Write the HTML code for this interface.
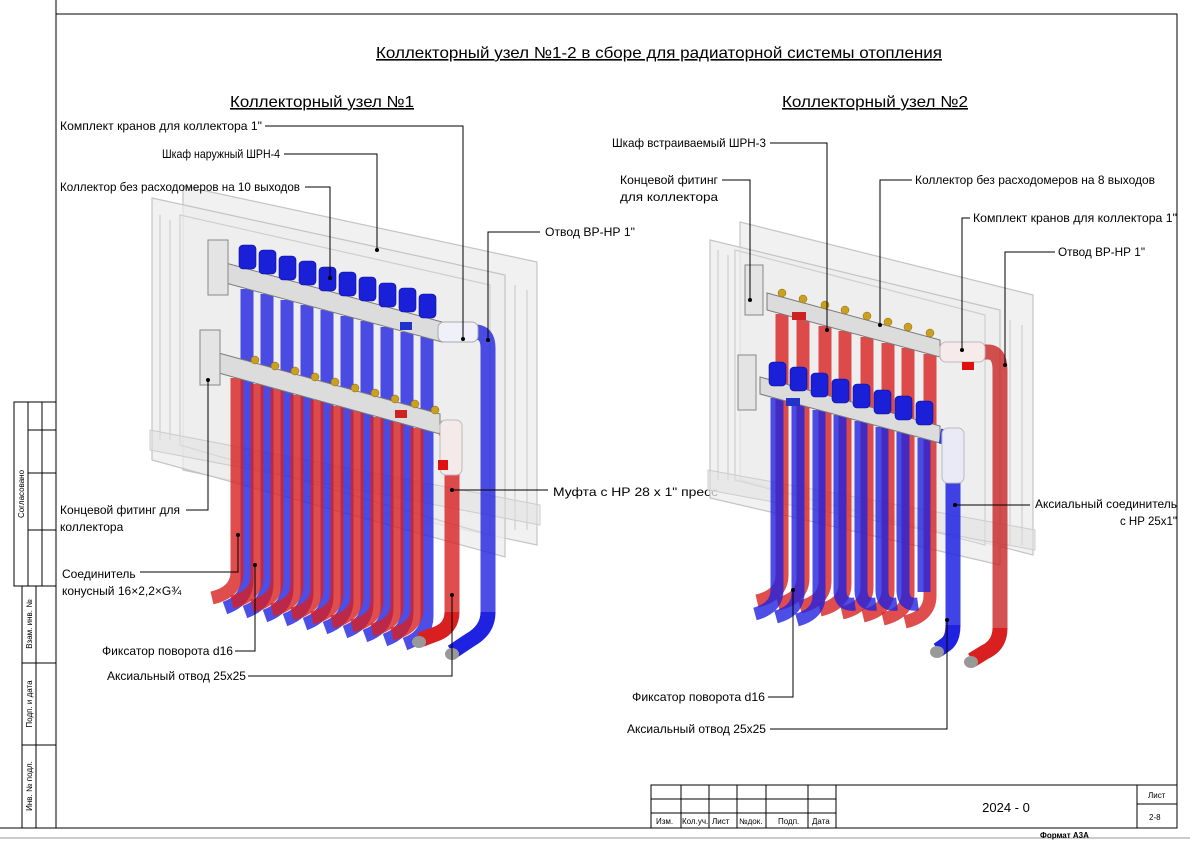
<!DOCTYPE html>
<html><head><meta charset="utf-8"><style>
html,body{margin:0;padding:0;background:#fff}
svg{display:block}
text{font-family:"Liberation Sans Narrow","Liberation Sans","DejaVu Sans Condensed",sans-serif;fill:#000}
.l{font-size:12px}
.t{font-size:16px;text-decoration:underline}
.s{font-size:8px}
.ln{stroke:#000;stroke-width:1;fill:none}
.bp{fill:none;stroke:#1f22e0;stroke-width:13;stroke-opacity:.8}
.rp{fill:none;stroke:#d82020;stroke-width:13;stroke-opacity:.8}
.cap{fill:#1a1fd8;stroke:#0d0f90;stroke-width:.6}
.man{fill:#dcdcdc;stroke:#7a7a7a;stroke-width:1}
.cab{fill:#ececec;fill-opacity:.75;stroke:#c4c4c4;stroke-width:1.2}
.fr{fill:none;stroke:#cfcfcf;stroke-width:1.2}
.br{fill:#c9a020;stroke:#8a6a10;stroke-width:.5}
</style></head><body>
<svg width="1190" height="842" viewBox="0 0 1190 842" xmlns="http://www.w3.org/2000/svg">
<line x1="0" y1="838" x2="1190" y2="838" stroke="#999" stroke-width="1"/>
<path class="ln" d="M56 0 V828 M56 14 H1177 V828 H0" stroke-width="1.3"/>
<g class="ln" stroke-width="1.2">
<rect x="14" y="402" width="42" height="184"/>
<path d="M28 402 V586 M42 402 V586 M28 430 H56 M28 473 H56 M28 530 H56"/>
<rect x="22" y="586" width="34" height="242"/>
<path d="M36 586 V828 M22 663 H56 M22 745 H56"/>
</g>
<text class="s" transform="translate(24,494) rotate(-90)" text-anchor="middle">Согласовано</text>
<text class="s" transform="translate(32,624) rotate(-90)" text-anchor="middle">Взам. инв. №</text>
<text class="s" transform="translate(32,704) rotate(-90)" text-anchor="middle">Подп. и дата</text>
<text class="s" transform="translate(32,786) rotate(-90)" text-anchor="middle">Инв. № подл.</text>
<g class="ln" stroke-width="1.2">
<rect x="651" y="785" width="526" height="43"/>
<path d="M681 785 V828 M709 785 V828 M737 785 V828 M766 785 V828 M808 785 V828 M836 785 V828 M1137 785 V828 M651 799 H836 M651 813 H836 M1137 804 H1177"/>
</g>
<g class="s">
<text x="656" y="824">Изм.</text><text x="682" y="824">Кол.уч.</text><text x="712" y="824">Лист</text><text x="739" y="824">№док.</text><text x="778" y="824">Подп.</text><text x="812" y="824">Дата</text>
<text x="1148" y="798">Лист</text><text x="1149" y="820">2-8</text>
<text x="1040" y="838" font-weight="bold">Формат А3А</text>
</g>
<text x="1006" y="812" font-size="13" text-anchor="middle">2024 - 0</text>
<text class="t" x="376" y="58" textLength="566" lengthAdjust="spacingAndGlyphs">Коллекторный узел №1-2 в сборе для радиаторной системы отопления</text>
<text class="t" x="230" y="107" textLength="184" lengthAdjust="spacingAndGlyphs">Коллекторный узел №1</text>
<text class="t" x="782" y="107" textLength="186" lengthAdjust="spacingAndGlyphs">Коллекторный узел №2</text>

<!-- Diagram 1 -->
<polygon class="cab" points="183,186 537,262 537,545 183,470"/>
<polygon class="cab" points="152,198 505,275 505,557 152,460"/>
<polygon class="fr" points="180,215 490,285 490,535 180,445"/>
<path class="fr" d="M160 215 V440 M170 220 V440 M515 285 V530 M527 290 V530"/>
<polygon points="150,430 540,505 540,525 150,450" fill="#e0e0e0" fill-opacity=".5" stroke="#ccc"/>
<g>
<path class="bp" d="M247 289 V580 Q247 600 225 608"/><path class="bp" d="M267 294 V584 Q267 604 245 612"/>
<path class="bp" d="M287 300 V588 Q287 608 265 616"/><path class="bp" d="M307 305 V592 Q307 612 285 620"/>
<path class="bp" d="M327 310 V596 Q327 616 305 624"/><path class="bp" d="M347 316 V600 Q347 620 325 628"/>
<path class="bp" d="M367 321 V604 Q367 624 345 632"/><path class="bp" d="M387 327 V608 Q387 628 365 636"/>
<path class="bp" d="M407 332 V612 Q407 632 385 640"/><path class="bp" d="M427 337 V616 Q427 636 405 644"/>
</g>
<polygon class="man" points="222,262 442,322 442,342 222,282"/>
<g>
<rect class="cap" x="239" y="245" width="17" height="24" rx="4"/><rect class="cap" x="259" y="250" width="17" height="24" rx="4"/>
<rect class="cap" x="279" y="256" width="17" height="24" rx="4"/><rect class="cap" x="299" y="261" width="17" height="24" rx="4"/>
<rect class="cap" x="319" y="267" width="17" height="24" rx="4"/><rect class="cap" x="339" y="272" width="17" height="24" rx="4"/>
<rect class="cap" x="359" y="277" width="17" height="24" rx="4"/><rect class="cap" x="379" y="283" width="17" height="24" rx="4"/>
<rect class="cap" x="399" y="288" width="17" height="24" rx="4"/><rect class="cap" x="419" y="294" width="17" height="24" rx="4"/>
</g>
<g>
<path class="rp" d="M237 378 V572 Q237 592 212 598"/><path class="rp" d="M257 384 V576 Q257 596 232 602"/>
<path class="rp" d="M277 389 V580 Q277 600 252 606"/><path class="rp" d="M297 395 V584 Q297 604 272 610"/>
<path class="rp" d="M317 400 V588 Q317 608 292 614"/><path class="rp" d="M337 406 V592 Q337 612 312 618"/>
<path class="rp" d="M357 411 V596 Q357 616 332 622"/><path class="rp" d="M377 417 V600 Q377 620 352 626"/>
<path class="rp" d="M397 422 V604 Q397 624 372 630"/><path class="rp" d="M417 428 V608 Q417 628 392 634"/>
</g>
<polygon class="man" points="215,352 440,414 440,434 215,372"/>
<g>
<circle class="br" cx="255" cy="360" r="4"/><circle class="br" cx="275" cy="366" r="4"/><circle class="br" cx="295" cy="371" r="4"/><circle class="br" cx="315" cy="377" r="4"/><circle class="br" cx="335" cy="382" r="4"/><circle class="br" cx="355" cy="388" r="4"/><circle class="br" cx="375" cy="393" r="4"/><circle class="br" cx="395" cy="399" r="4"/><circle class="br" cx="415" cy="404" r="4"/><circle class="br" cx="435" cy="410" r="4"/>
</g>
<rect x="208" y="240" width="20" height="55" fill="#e4e4e4" stroke="#888"/>
<rect x="200" y="330" width="20" height="55" fill="#e4e4e4" stroke="#888"/>
<rect x="400" y="322" width="12" height="8" fill="#2233cc"/><rect x="395" y="410" width="12" height="8" fill="#cc2222"/>
<path d="M440 332 H475 Q488 332 488 348 V612" fill="none" stroke="#1f22e0" stroke-width="15" stroke-opacity=".8"/>
<rect x="438" y="322" width="40" height="20" rx="6" fill="#f0f0f8" stroke="#aaa"/>
<path d="M488 612 Q488 630 470 640 L452 652" fill="none" stroke="#1f22e0" stroke-width="15"/>
<ellipse cx="452" cy="654" rx="7" ry="6" fill="#999"/>
<path d="M440 428 Q452 430 452 445 V612" fill="none" stroke="#d82020" stroke-width="15" stroke-opacity=".8"/>
<rect x="440" y="420" width="22" height="55" rx="6" fill="#f4eaea" stroke="#bbb"/>
<path d="M452 612 Q452 628 436 634 L420 640" fill="none" stroke="#d82020" stroke-width="15"/>
<ellipse cx="419" cy="642" rx="7" ry="6" fill="#999"/>
<rect x="438" y="460" width="10" height="10" fill="#e01010"/>
<g class="l">
<text x="60" y="130" textLength="202" lengthAdjust="spacingAndGlyphs">Комплект кранов для коллектора 1"</text>
<text x="162" y="158" textLength="118" lengthAdjust="spacingAndGlyphs">Шкаф наружный  ШРН-4</text>
<text x="60" y="191" textLength="240" lengthAdjust="spacingAndGlyphs">Коллектор без расходомеров на 10 выходов</text>
<text x="545" y="236" textLength="90" lengthAdjust="spacingAndGlyphs">Отвод ВР-НР 1"</text>
<text x="553" y="496" textLength="165" lengthAdjust="spacingAndGlyphs">Муфта с НР 28 х 1" пресс</text>
<text x="60" y="514" textLength="120" lengthAdjust="spacingAndGlyphs">Концевой фитинг для</text>
<text x="60" y="531">коллектора</text>
<text x="62" y="578">Соединитель</text>
<text x="62" y="595">конусный 16×2,2×G¾</text>
<text x="102" y="655" textLength="131" lengthAdjust="spacingAndGlyphs">Фиксатор поворота d16</text>
<text x="107" y="680" textLength="139" lengthAdjust="spacingAndGlyphs">Аксиальный отвод 25х25</text>
</g>
<g class="ln">
<path d="M265 126 H463 V339"/><path d="M284 154 H377 V250"/><path d="M305 187 H330 V278"/>
<path d="M540 232 H488 V340"/><path d="M452 490 H548"/><path d="M186 510 H208 V380"/>
<path d="M140 572 H238 V535"/><path d="M235 651 H255 V565"/><path d="M248 676 H452 V595"/>
</g>
<g fill="#000"><circle cx="463" cy="339" r="2"/><circle cx="377" cy="250" r="2"/><circle cx="330" cy="278" r="2"/><circle cx="488" cy="340" r="2"/><circle cx="452" cy="490" r="2"/><circle cx="208" cy="380" r="2"/><circle cx="238" cy="535" r="2"/><circle cx="255" cy="565" r="2"/><circle cx="452" cy="595" r="2"/></g>

<!-- Diagram 2 -->
<polygon class="cab" points="740,222 1033,295 1033,555 740,480"/>
<polygon class="cab" points="710,240 1000,310 1000,565 710,498"/>
<polygon class="fr" points="735,250 985,315 985,545 735,480"/>
<path class="fr" d="M718 250 V480 M728 255 V480 M1010 320 V545 M1022 325 V545"/>
<polygon points="708,470 1035,530 1035,550 708,490" fill="#e0e0e0" fill-opacity=".5" stroke="#ccc"/>
<g>
<path class="rp" d="M782 314 V575 Q782 595 757 601"/><path class="rp" d="M803 320 V578 Q803 598 778 604"/>
<path class="rp" d="M825 326 V581 Q825 601 800 607"/><path class="rp" d="M845 331 V584 Q845 604 820 610"/>
<path class="rp" d="M867 337 V587 Q867 607 842 613"/><path class="rp" d="M888 343 V590 Q888 610 863 616"/>
<path class="rp" d="M908 348 V593 Q908 613 883 619"/><path class="rp" d="M930 354 V596 Q930 616 905 622"/>
</g>
<polygon class="man" points="767,293 940,340 940,357 767,310"/>
<g>
<circle class="br" cx="782" cy="293" r="4"/><circle class="br" cx="803" cy="299" r="4"/><circle class="br" cx="825" cy="305" r="4"/><circle class="br" cx="845" cy="310" r="4"/><circle class="br" cx="867" cy="316" r="4"/><circle class="br" cx="888" cy="322" r="4"/><circle class="br" cx="908" cy="327" r="4"/><circle class="br" cx="930" cy="333" r="4"/>
</g>
<g>
<path class="bp" d="M777 398 V590 Q777 608 755 614"/><path class="bp" d="M798 404 V593 Q798 611 776 617"/>
<path class="bp" d="M819 410 V596 Q819 614 797 620"/><path class="bp" d="M840 415 V590 Q840 606 855 604"/>
<path class="bp" d="M861 421 V590 Q861 606 876 604"/><path class="bp" d="M882 427 V590 Q882 606 897 604"/>
<path class="bp" d="M903 432 V590 Q903 606 918 604"/><path class="bp" d="M924 438 V592"/>
</g>
<polygon class="man" points="760,377 940,426 940,443 760,394"/>
<g>
<rect class="cap" x="769" y="362" width="17" height="24" rx="4"/><rect class="cap" x="790" y="367" width="17" height="24" rx="4"/>
<rect class="cap" x="811" y="373" width="17" height="24" rx="4"/><rect class="cap" x="832" y="379" width="17" height="24" rx="4"/>
<rect class="cap" x="853" y="384" width="17" height="24" rx="4"/><rect class="cap" x="874" y="390" width="17" height="24" rx="4"/>
<rect class="cap" x="895" y="396" width="17" height="24" rx="4"/><rect class="cap" x="916" y="401" width="17" height="24" rx="4"/>
</g>
<rect x="745" y="265" width="18" height="50" fill="#e4e4e4" stroke="#888"/>
<rect x="738" y="355" width="18" height="55" fill="#e4e4e4" stroke="#888"/>
<rect x="792" y="312" width="14" height="8" fill="#cc2222"/><rect x="786" y="398" width="14" height="8" fill="#2233cc"/>
<path d="M940 352 H988 Q1000 352 1000 370 V628" fill="none" stroke="#c82525" stroke-width="15" stroke-opacity=".8"/>
<rect x="940" y="342" width="45" height="20" rx="6" fill="#f6eaea" stroke="#bbb"/>
<path d="M1000 628 Q1000 645 985 652 L972 660" fill="none" stroke="#d82020" stroke-width="15"/>
<ellipse cx="971" cy="662" rx="7" ry="6" fill="#999"/>
<rect x="962" y="362" width="12" height="8" fill="#e01010"/>
<path d="M940 436 Q953 438 953 455 V625" fill="none" stroke="#1f22e0" stroke-width="15" stroke-opacity=".85"/>
<rect x="942" y="428" width="22" height="55" rx="6" fill="#eaeaf6" stroke="#bbb"/>
<path d="M953 625 Q953 640 945 645 L938 650" fill="none" stroke="#1f22e0" stroke-width="15"/>
<ellipse cx="937" cy="652" rx="7" ry="6" fill="#999"/>
<g class="l">
<text x="612" y="147" textLength="154" lengthAdjust="spacingAndGlyphs">Шкаф встраиваемый ШРН-3</text>
<text x="620" y="184" textLength="98" lengthAdjust="spacingAndGlyphs">Концевой фитинг</text>
<text x="620" y="201" textLength="98" lengthAdjust="spacingAndGlyphs">для коллектора</text>
<text x="915" y="184" textLength="240" lengthAdjust="spacingAndGlyphs">Коллектор без расходомеров на 8 выходов</text>
<text x="973" y="222" textLength="204" lengthAdjust="spacingAndGlyphs">Комплект кранов для коллектора 1"</text>
<text x="1058" y="256" textLength="87" lengthAdjust="spacingAndGlyphs">Отвод ВР-НР 1"</text>
<text x="1035" y="508" textLength="142" lengthAdjust="spacingAndGlyphs">Аксиальный соединитель</text>
<text x="1120" y="525" textLength="57" lengthAdjust="spacingAndGlyphs">с НР 25х1"</text>
<text x="632" y="701" textLength="133" lengthAdjust="spacingAndGlyphs">Фиксатор поворота d16</text>
<text x="627" y="733" textLength="139" lengthAdjust="spacingAndGlyphs">Аксиальный отвод 25х25</text>
</g>
<g class="ln">
<path d="M770 143 H827 V330"/><path d="M722 180 H750 V300"/><path d="M912 180 H880 V325"/>
<path d="M970 218 H962 V350"/><path d="M1055 252 H1005 V365"/><path d="M955 505 H1030"/>
<path d="M768 697 H793 V590"/><path d="M770 729 H947 V620"/>
</g>
<g fill="#000"><circle cx="827" cy="330" r="2"/><circle cx="750" cy="300" r="2"/><circle cx="880" cy="325" r="2"/><circle cx="962" cy="350" r="2"/><circle cx="1005" cy="365" r="2"/><circle cx="955" cy="505" r="2"/><circle cx="793" cy="590" r="2"/><circle cx="947" cy="620" r="2"/></g>
</svg>
</body></html>
